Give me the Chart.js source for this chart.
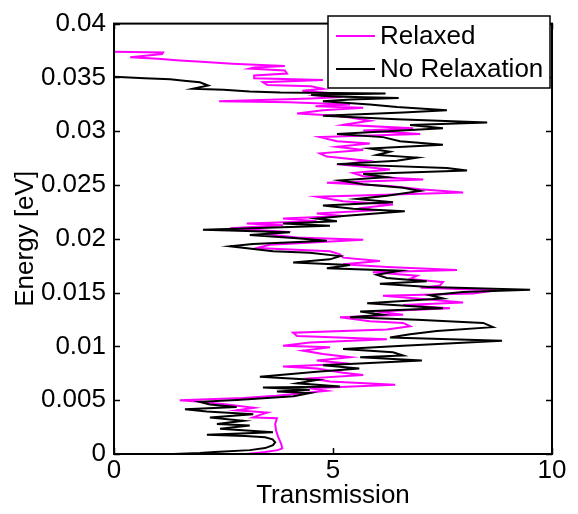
<!DOCTYPE html>
<html>
<head>
<meta charset="utf-8">
<script src="https://cdn.jsdelivr.net/npm/chart.js@4.4.1/dist/chart.umd.min.js"></script>
<style>
  html, body { margin: 0; padding: 0; background: #fff; }
</style>
</head>
<body>
<canvas id="transChart" width="578" height="514"></canvas>
<script>
// Transmission vs. energy, relaxed and unrelaxed structures
const seriesNames = ['Relaxed', 'No Relaxation'];
const seriesColors = ['#ff00ff', '#000000'];

const energyRelaxed = [
  0.00000, 0.00018, 0.00036, 0.00052, 0.00091, 0.00157, 0.00218, 0.00279, 0.00332, 0.00339, 0.00359,
  0.00385, 0.00406, 0.00430, 0.00461, 0.00485, 0.00500, 0.00521, 0.00541, 0.00564, 0.00588,
  0.00612, 0.00643, 0.00673, 0.00703, 0.00734, 0.00755, 0.00794, 0.00814, 0.00839, 0.00870,
  0.00900, 0.00930, 0.00961, 0.00991, 0.01006, 0.01036, 0.01066, 0.01097, 0.01127, 0.01157,
  0.01188, 0.01218, 0.01234, 0.01270, 0.01294, 0.01325, 0.01355, 0.01385, 0.01409, 0.01445,
  0.01470, 0.01491, 0.01521, 0.01545, 0.01566, 0.01597, 0.01627, 0.01657, 0.01688, 0.01709,
  0.01739, 0.01764, 0.01794, 0.01825, 0.01855, 0.01885, 0.01915, 0.01945, 0.01991, 0.02012,
  0.02043, 0.02066, 0.02097, 0.02127, 0.02143, 0.02164, 0.02188, 0.02212, 0.02234, 0.02264,
  0.02288, 0.02318, 0.02348, 0.02391, 0.02430, 0.02461, 0.02491, 0.02521, 0.02552, 0.02582,
  0.02612, 0.02643, 0.02688, 0.02725, 0.02764, 0.02794, 0.02825, 0.02855, 0.02885, 0.02906,
  0.02945, 0.02975, 0.03006, 0.03027, 0.03059, 0.03077, 0.03097, 0.03127, 0.03145, 0.03164,
  0.03194, 0.03218, 0.03232, 0.03248, 0.03268, 0.03279, 0.03305, 0.03318, 0.03336, 0.03355,
  0.03377, 0.03394, 0.03418, 0.03430, 0.03455, 0.03475, 0.03491, 0.03518, 0.03536, 0.03564,
  0.03582, 0.03591, 0.03606, 0.03627, 0.03645, 0.03657, 0.03673, 0.03688, 0.03718, 0.03732,
  0.03739
];
const transRelaxed = [
  3.03, 3.45, 3.74, 3.84, 3.82, 3.75, 3.70, 3.68, 3.72, 3.17, 3.30,
  3.50, 2.80, 3.20, 2.58, 1.96, 1.50, 2.95, 3.70, 4.30, 4.86,
  4.47, 6.42, 4.93, 4.47, 5.69, 5.23, 4.63, 3.86, 5.39, 4.63,
  5.39, 4.77, 4.31, 4.93, 3.86, 4.47, 6.23, 4.18, 4.09, 6.23,
  6.76, 6.60, 5.84, 5.16, 6.60, 6.00, 7.67, 6.60, 7.97, 6.92,
  6.14, 8.20, 8.74, 7.00, 7.44, 7.51, 6.76, 6.92, 5.91, 7.83,
  6.23, 5.23, 6.07, 5.23, 5.16, 4.93, 3.26, 3.56, 5.69, 4.18,
  3.49, 3.86, 2.65, 3.86, 3.03, 4.63, 3.86, 5.23, 4.63, 5.91,
  5.69, 6.37, 5.23, 4.63, 7.97, 6.99, 6.30, 4.86, 7.06, 5.69,
  5.46, 6.30, 5.23, 5.78, 4.86, 4.70, 5.69, 5.09, 5.84, 5.09,
  4.70, 6.99, 5.69, 6.83, 5.23, 5.50, 5.84, 5.39, 5.00, 4.18,
  4.77, 5.69, 4.60, 5.39, 4.00, 2.40, 4.50, 5.20, 4.60, 4.90,
  4.30, 4.77, 4.50, 3.50, 3.40, 4.77, 3.20, 3.20, 3.95, 3.90,
  3.10, 3.20, 3.90, 2.70, 2.00, 1.50, 1.00, 0.37, 1.10, 1.12,
  0.00
];

const energyUnrelaxed = [
  0.00000, 0.00009, 0.00018, 0.00036, 0.00055, 0.00082, 0.00109, 0.00136, 0.00155, 0.00168,
  0.00179, 0.00203, 0.00234,
  0.00264, 0.00279, 0.00309, 0.00339, 0.00370, 0.00394, 0.00415, 0.00436, 0.00461, 0.00485,
  0.00503, 0.00536, 0.00566, 0.00582, 0.00597, 0.00618, 0.00627, 0.00657, 0.00688, 0.00718,
  0.00764, 0.00795, 0.00825, 0.00870, 0.00900, 0.00915, 0.00945, 0.00975, 0.01006, 0.01052,
  0.01082, 0.01112, 0.01143, 0.01179, 0.01218, 0.01248, 0.01270, 0.01294, 0.01325, 0.01355,
  0.01400, 0.01445, 0.01475, 0.01506, 0.01527, 0.01552, 0.01582, 0.01606, 0.01636, 0.01666,
  0.01703, 0.01727, 0.01757, 0.01779, 0.01809, 0.01839, 0.01870, 0.01885, 0.01930, 0.01952,
  0.01982, 0.02006, 0.02036, 0.02061, 0.02085, 0.02121, 0.02143, 0.02164, 0.02188, 0.02212,
  0.02255, 0.02279, 0.02309, 0.02339, 0.02370, 0.02400, 0.02445, 0.02475, 0.02506, 0.02543,
  0.02573, 0.02603, 0.02634, 0.02657, 0.02694, 0.02725, 0.02755, 0.02779, 0.02809, 0.02839,
  0.02875, 0.02906, 0.02945, 0.02975, 0.03027, 0.03057, 0.03082, 0.03112, 0.03143, 0.03173,
  0.03194, 0.03225, 0.03248, 0.03279, 0.03295, 0.03309, 0.03323, 0.03336, 0.03350, 0.03359,
  0.03370, 0.03386, 0.03394, 0.03425, 0.03455, 0.03468, 0.03482, 0.03491, 0.03506
];
const transUnrelaxed = [
  1.35, 1.96, 2.30, 3.10, 3.45, 3.63, 3.68, 3.62, 3.45, 3.00,
  2.12, 3.63, 2.42,
  3.10, 2.35, 2.95, 2.19, 3.18, 2.12, 1.62, 2.80, 2.19, 1.96,
  2.80, 4.10, 4.47, 3.72, 4.47, 3.40, 5.16, 4.18, 4.63, 3.33,
  4.63, 5.60, 4.77, 7.03, 5.62, 6.60, 6.37, 5.23, 6.60, 8.86,
  6.30, 6.76, 7.37, 8.65, 8.43, 6.92, 5.39, 6.14, 5.62, 7.51,
  5.78, 7.51, 7.21, 7.97, 9.50, 7.20, 6.07, 7.14, 6.23, 6.00,
  6.53, 4.86, 5.39, 4.09, 4.93, 5.16, 4.47, 3.63, 2.65, 3.17,
  4.86, 4.18, 3.10, 4.02, 2.03, 4.93, 3.86, 5.09, 4.63, 5.23,
  6.64, 5.46, 4.77, 6.37, 5.55, 6.23, 6.99, 6.60, 5.69, 5.16,
  6.23, 5.69, 8.06, 7.60, 5.09, 6.46, 6.92, 6.00, 6.30, 5.84,
  7.51, 6.53, 6.14, 5.09, 7.51, 6.76, 8.52, 6.46, 4.77, 6.60,
  7.60, 6.46, 5.84, 4.77, 5.40, 6.50, 5.00, 4.50, 6.20, 3.80,
  3.10, 2.50, 1.80, 2.15, 1.96, 1.60, 1.28, 0.70, 0.00
];

const xTicks = [0, 5, 10];
const xTickLabels = ['0', '5', '10'];
const yTicks = [0, 0.005, 0.01, 0.015, 0.02, 0.025, 0.03, 0.035, 0.04];
const yTickLabels = ['0', '0.005', '0.01', '0.015', '0.02', '0.025', '0.03', '0.035', '0.04'];

const FONT = "'Liberation Sans', Arial, sans-serif";
Chart.defaults.font.family = FONT;
Chart.defaults.font.size = 26;
Chart.defaults.color = '#000';

function toPoints(energy, trans) {
  return energy.map((e, i) => ({ x: trans[i], y: e }));
}

// box around the axes, inward ticks on all four sides, legend in the corner
const framePlugin = {
  id: 'frame',
  afterDatasetsDraw(chart) {
    const { ctx, chartArea: a, scales } = chart;
    ctx.save();
    ctx.strokeStyle = '#000';
    ctx.lineWidth = 1.5;
    const tl = 6;
    ctx.beginPath();
    scales.x.ticks.forEach(t => {
      const px = Math.round(scales.x.getPixelForValue(t.value)) + 0.5;
      ctx.moveTo(px, a.bottom); ctx.lineTo(px, a.bottom - tl);
      ctx.moveTo(px, a.top); ctx.lineTo(px, a.top + tl);
    });
    scales.y.ticks.forEach(t => {
      const py = Math.round(scales.y.getPixelForValue(t.value)) + 0.5;
      ctx.moveTo(a.left, py); ctx.lineTo(a.left + tl, py);
      ctx.moveTo(a.right, py); ctx.lineTo(a.right - tl, py);
    });
    ctx.stroke();

    ctx.lineWidth = 2;
    ctx.strokeRect(a.left, a.top, a.right - a.left, a.bottom - a.top);

    // legend
    const lx = 328, ly = 16, lw = 222, lh = 72;
    ctx.fillStyle = '#fff';
    ctx.fillRect(lx, ly, lw, lh);
    ctx.lineWidth = 1.5;
    ctx.strokeRect(lx, ly, lw, lh);
    ctx.font = '26px ' + FONT;
    ctx.textBaseline = 'middle';
    ctx.textAlign = 'left';
    seriesNames.forEach((name, i) => {
      const cy = ly + 20 + i * 33;
      ctx.strokeStyle = seriesColors[i];
      ctx.lineWidth = 2;
      ctx.beginPath();
      ctx.moveTo(lx + 8, cy); ctx.lineTo(lx + 47, cy);
      ctx.stroke();
      ctx.fillStyle = '#000';
      ctx.fillText(name, lx + 52, cy + 1);
    });
    ctx.restore();
  }
};

const ctx = document.getElementById('transChart').getContext('2d');

const transChart = new Chart(ctx, {
  type: 'scatter',
  data: {
    datasets: [
      {
        label: seriesNames[0],
        data: toPoints(energyRelaxed, transRelaxed),
        borderColor: seriesColors[0],
        order: 1
      },
      {
        label: seriesNames[1],
        data: toPoints(energyUnrelaxed, transUnrelaxed),
        borderColor: seriesColors[1],
        order: 0
      }
    ]
  },
  options: {
    responsive: false,
    animation: false,
    showLine: true,
    elements: {
      point: { radius: 0, hoverRadius: 0 },
      line: { borderWidth: 2, tension: 0 }
    },
    layout: { padding: { top: 14, right: 26, left: 0, bottom: 0 } },
    plugins: {
      legend: { display: false },
      tooltip: { enabled: false }
    },
    scales: {
      x: {
        type: 'linear',
        min: 0,
        max: 10,
        afterBuildTicks: s => { s.ticks = xTicks.map(v => ({ value: v })); },
        afterFit: s => { s.height = 60; },
        ticks: {
          padding: 1,
          maxRotation: 0,
          callback: (v, i) => xTickLabels[i]
        },
        grid: { display: false, drawTicks: false },
        border: { display: false },
        title: {
          display: true,
          text: 'Transmission',
          font: { size: 26 },
          padding: { top: 0, bottom: 3 }
        }
      },
      y: {
        type: 'linear',
        min: 0,
        max: 0.04,
        afterBuildTicks: s => { s.ticks = yTicks.map(v => ({ value: v })); },
        afterFit: s => { s.width = 114; },
        ticks: {
          padding: 8,
          callback: (v, i) => yTickLabels[i]
        },
        grid: { display: false, drawTicks: false },
        border: { display: false },
        title: {
          display: true,
          text: 'Energy [eV]',
          font: { size: 26 },
          padding: { top: 10, bottom: 0 }
        }
      }
    }
  },
  plugins: [framePlugin]
});
</script>
</body>
</html>
